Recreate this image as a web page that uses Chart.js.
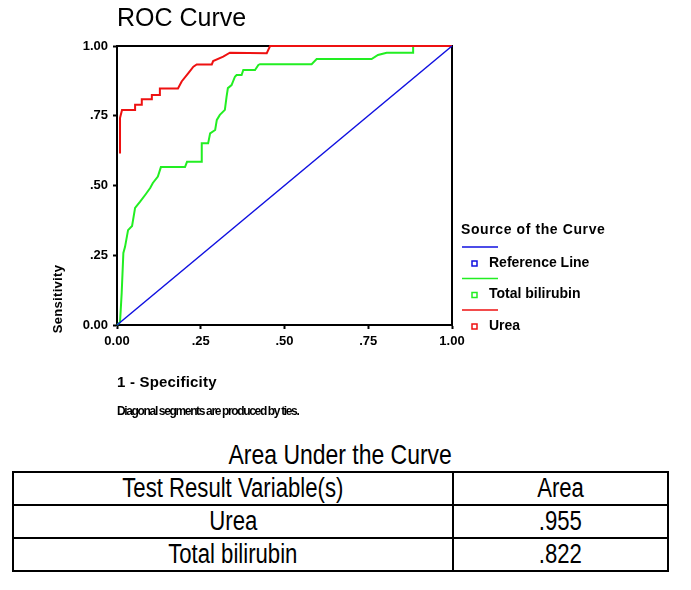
<!DOCTYPE html>
<html>
<head>
<meta charset="utf-8">
<script src="https://cdn.jsdelivr.net/npm/chart.js@4.4.1/dist/chart.umd.min.js"></script>
<style>
  body { margin: 0; background: #fff; width: 691px; height: 590px; position: relative; overflow: hidden; }
  #roc { position: absolute; left: 0; top: 0; }
  #aucTitle { position: absolute; left: 12px; top: 441px; width: 657px; text-align: center;
              font: 28px Arial, "Liberation Sans", sans-serif; line-height: 28px; color: #000; }
  #aucTable { position: absolute; left: 12px; top: 471px; width: 657px; border-collapse: collapse;
              font: 27px Arial, "Liberation Sans", sans-serif; color: #000; }
  #aucTable td { border: 2px solid #000; text-align: center; height: 31px; padding: 0; line-height: 31px; }
  .narrow { display: inline-block; transform: scaleX(0.82); transform-origin: center; white-space: nowrap; }
</style>
</head>
<body>
<canvas id="roc" width="691" height="430"></canvas>
<div id="aucTitle"><span class="narrow">Area Under the Curve</span></div>
<table id="aucTable"></table>

<script>
// tick labels (SPSS style, no leading zero)
const tickLabels = ['0.00', '.25', '.50', '.75', '1.00'];
const seriesNames = ['Reference Line', 'Total bilirubin', 'Urea'];

// reference diagonal
const refX = [0, 1];
const refY = [0, 1];

// Total bilirubin curve (1 - specificity, sensitivity)
const bilirubinX = [0, 0.009, 0.014, 0.019, 0.024, 0.033, 0.045, 0.054, 0.069, 0.084, 0.099, 0.107, 0.122, 0.131,
                    0.203, 0.209, 0.253, 0.253, 0.272, 0.278, 0.293, 0.298, 0.307, 0.322, 0.327, 0.331, 0.342,
                    0.352, 0.357, 0.372, 0.377, 0.412, 0.422, 0.427, 0.581, 0.596, 0.760, 0.779, 0.805, 0.884, 0.884, 1];
const bilirubinY = [0, 0.01, 0.115, 0.258, 0.28, 0.34, 0.355, 0.42, 0.442, 0.466, 0.491, 0.509, 0.532, 0.566,
                    0.566, 0.585, 0.585, 0.651, 0.651, 0.687, 0.699, 0.735, 0.753, 0.771, 0.818, 0.849, 0.86,
                    0.89, 0.896, 0.896, 0.914, 0.914, 0.932, 0.935, 0.935, 0.953, 0.953, 0.968, 0.976, 0.976, 1, 1];

// Urea curve
const ureaX = [0.009, 0.009, 0.015, 0.054, 0.054, 0.074, 0.074, 0.104, 0.104, 0.128, 0.128, 0.182, 0.193,
               0.213, 0.228, 0.238, 0.283, 0.287, 0.317, 0.337, 0.447, 0.457, 1];
const ureaY = [0.615, 0.742, 0.771, 0.771, 0.789, 0.789, 0.809, 0.809, 0.824, 0.824, 0.848, 0.848, 0.873,
               0.903, 0.926, 0.934, 0.934, 0.946, 0.962, 0.976, 0.974, 1, 1];

// area under the curve table
const aucVariables = ['Urea', 'Total bilirubin'];
const aucValues = ['.955', '.822'];

const toPoints = (xs, ys) => xs.map((x, i) => ({ x: x, y: ys[i] }));
const cell = t => '<td><span class="narrow">' + t + '</span></td>';

// table
const table = document.getElementById('aucTable');
let rows = '<tr><td style="width:438px"><span class="narrow">Test Result Variable(s)</span></td>' + cell('Area') + '</tr>';
aucVariables.forEach((v, i) => { rows += '<tr>' + cell(v) + cell(aucValues[i]) + '</tr>'; });
table.innerHTML = rows;

// frame, titles and legend drawn around the plot
const spssText = {
    id: 'spssText',
    beforeDatasetsDraw(chart) {
        const { ctx, chartArea: a } = chart;
        ctx.save();
        ctx.strokeStyle = '#000';
        ctx.lineWidth = 2;
        ctx.strokeRect(a.left, a.top, a.right - a.left, a.bottom - a.top);
        ctx.restore();
    },
    afterDraw(chart) {
        const { ctx, chartArea: a } = chart;
        ctx.save();
        ctx.fillStyle = '#000';
        ctx.textBaseline = 'middle';
        ctx.textAlign = 'left';

        ctx.font = '25px Arial, "Liberation Sans", sans-serif';
        ctx.fillText('ROC Curve', a.left, 19);

        ctx.font = 'bold 15px Arial, "Liberation Sans", sans-serif';
        ctx.letterSpacing = '0.2px';
        ctx.fillText('1 - Specificity', a.left, 383);

        ctx.font = 'bold 12px Arial, "Liberation Sans", sans-serif';
        ctx.letterSpacing = '-1.35px';
        ctx.fillText('Diagonal segments are produced by ties.', a.left, 412);

        // y axis title
        ctx.save();
        ctx.translate(58, 299);
        ctx.rotate(-Math.PI / 2);
        ctx.textAlign = 'center';
        ctx.font = 'bold 13px Arial, "Liberation Sans", sans-serif';
        ctx.letterSpacing = '0.3px';
        ctx.fillText('Sensitivity', 0, 0);
        ctx.restore();

        // legend
        const lx = a.right + 10;
        ctx.font = 'bold 14px Arial, "Liberation Sans", sans-serif';
        ctx.letterSpacing = '0.6px';
        ctx.fillText('Source of the Curve', lx - 1, 230);
        ctx.letterSpacing = '0px';
        ctx.font = 'bold 14px Arial, "Liberation Sans", sans-serif';
        chart.data.datasets.forEach((ds, i) => {
            const ly = 247 + i * 31.5;
            ctx.strokeStyle = ds.borderColor;
            ctx.lineWidth = 1.5;
            ctx.beginPath();
            ctx.moveTo(lx, ly);
            ctx.lineTo(lx + 36, ly);
            ctx.stroke();
            ctx.strokeRect(lx + 10, ly + 14, 5, 5);
            ctx.fillStyle = '#000';
            ctx.fillText(ds.label, lx + 27, ly + 16);
        });
        ctx.restore();
    }
};

const tickFont = { family: 'Arial, "Liberation Sans", sans-serif', weight: 'bold', size: 13 };

new Chart(document.getElementById('roc').getContext('2d'), {
    type: 'scatter',
    data: {
        datasets: [
            { label: seriesNames[0], data: toPoints(refX, refY), borderColor: '#1010e0', borderWidth: 1.5, order: 0 },
            { label: seriesNames[1], data: toPoints(bilirubinX, bilirubinY), borderColor: '#22ee22', borderWidth: 2, order: 2 },
            { label: seriesNames[2], data: toPoints(ureaX, ureaY), borderColor: '#ee1111', borderWidth: 2, order: 1 }
        ]
    },
    options: {
        responsive: false,
        animation: false,
        showLine: true,
        clip: false,
        elements: { point: { radius: 0, hoverRadius: 0 }, line: { tension: 0 } },
        layout: { padding: { left: 57, right: 239, top: 46, bottom: 75 } },
        plugins: { legend: { display: false }, title: { display: false }, tooltip: { enabled: false } },
        scales: {
            x: {
                type: 'linear', min: 0, max: 1,
                ticks: { stepSize: 0.25, color: '#000', font: tickFont, padding: 5, maxRotation: 0,
                         callback: v => tickLabels[Math.round(v * 4)] },
                grid: { drawOnChartArea: false, drawTicks: true, tickLength: 4, tickColor: '#000', tickWidth: 2 },
                border: { display: true, color: '#000', width: 2 },
                afterFit(s) { s.height = 30; }
            },
            y: {
                type: 'linear', min: 0, max: 1,
                ticks: { stepSize: 0.25, color: '#000', font: tickFont, padding: 5,
                         callback: v => tickLabels[Math.round(v * 4)] },
                grid: { drawOnChartArea: false, drawTicks: true, tickLength: 4, tickColor: '#000', tickWidth: 2 },
                border: { display: true, color: '#000', width: 2 },
                afterFit(s) { s.width = 60; }
            }
        }
    },
    plugins: [spssText]
});
</script>
</body>
</html>
